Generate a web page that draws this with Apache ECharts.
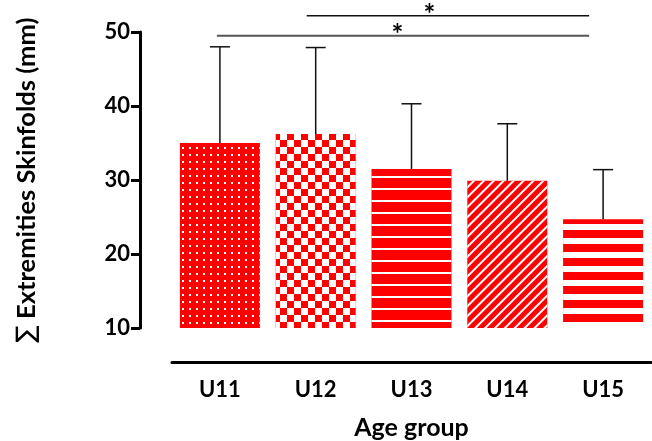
<!DOCTYPE html>
<html>
<head>
<meta charset="utf-8">
<script src="https://cdn.jsdelivr.net/npm/echarts@6/dist/echarts.min.js"></script>
<style>
  html, body { margin: 0; padding: 0; background: #fff; }
  #chart { width: 652px; height: 441px; }
</style>
</head>
<body>
<div id="chart"></div>
<script>
// Age groups and the summed extremity skinfolds (mean and SD, mm)
const ageGroups = ['U11', 'U12', 'U13', 'U14', 'U15'];
const meanSkinfolds = [35.0, 36.2, 31.5, 29.9, 24.7];
const sdSkinfolds = [13.0, 11.7, 8.8, 7.7, 6.7];
const yTicks = [10, 20, 30, 40, 50];

// Pairwise significant differences
const comparisonFrom = ['U12', 'U11'];
const comparisonTo = ['U15', 'U15'];
const comparisonLevel = [52.2, 49.5];
const comparisonMark = ['*', '*'];

const FONT = 'Lato, "Open Sans", sans-serif';
const RED = '#ff0000';

// one fill pattern per bar: dots, checks, thin stripes, diagonals, thick stripes
const decals = [
  { symbol: 'rect', symbolSize: 1, color: '#ffffff', dashArrayX: [2, 5], dashArrayY: [2, 4.5] },
  { symbol: 'rect', symbolSize: 1, color: '#ffffff', dashArrayX: [[6.5, 6.5], [0, 6.5, 6.5, 0]], dashArrayY: [6.5, 0] },
  { symbol: 'rect', symbolSize: 1, color: '#ffffff', dashArrayX: [1, 0], dashArrayY: [0, 7.3, 1.5, 1.2] },
  { symbol: 'rect', symbolSize: 1, color: '#ffffff', dashArrayX: [1, 0], dashArrayY: [1.5, 4.2], rotation: -Math.PI / 4 },
  { symbol: 'rect', symbolSize: 1, color: '#ffffff', dashArrayX: [1, 0], dashArrayY: [5.5, 7.7] }
];

const barData = meanSkinfolds.map((v, i) => ({
  value: v,
  itemStyle: { color: RED, decal: decals[i] }
}));

const errorData = meanSkinfolds.map((v, i) => [i, v, v + sdSkinfolds[i]]);

const comparisonData = comparisonFrom.map((f, i) => [
  ageGroups.indexOf(f), ageGroups.indexOf(comparisonTo[i]), comparisonLevel[i]
]);

// horizontal placement of each bracket (start shift, end shift, star shift) in px
const bracketShift = [[-9, -14, 18], [-3, -14, -14]];

const chart = echarts.init(document.getElementById('chart'), null, { renderer: 'canvas' });

chart.setOption({
  animation: false,
  backgroundColor: '#ffffff',
  grid: { left: 172, right: 1, top: 32, bottom: 113, containLabel: false, outerBoundsMode: 'none' },
  xAxis: {
    type: 'category',
    data: ageGroups,
    offset: 34,
    axisLine: { lineStyle: { color: '#000', width: 3 } },
    axisTick: { alignWithLabel: true, length: 9, lineStyle: { color: '#000', width: 3 } },
    axisLabel: { fontFamily: FONT, fontWeight: 'bold', fontSize: 22, color: '#000', margin: 17 },
    name: 'Age group',
    nameLocation: 'middle',
    nameGap: 53,
    nameTextStyle: { fontFamily: FONT, fontWeight: 'bold', fontSize: 25, color: '#000' }
  },
  yAxis: {
    type: 'value',
    min: yTicks[0],
    max: yTicks[yTicks.length - 1],
    interval: yTicks[1] - yTicks[0],
    offset: 32,
    axisLine: { show: true, lineStyle: { color: '#000', width: 3 } },
    axisTick: { show: true, length: 9, lineStyle: { color: '#000', width: 3 } },
    splitLine: { show: false },
    axisLabel: { fontFamily: FONT, fontWeight: 'bold', fontSize: 22, color: '#000', margin: 10 },
    name: '{sig|\u2211} Extremities Skinfolds (mm)',
    nameLocation: 'middle',
    nameRotate: 90,
    nameGap: 100,
    nameTextStyle: {
      fontFamily: FONT, fontWeight: 'bold', fontSize: 25.5, color: '#000',
      rich: { sig: { fontFamily: '"DejaVu Sans", sans-serif', fontWeight: 'normal', fontSize: 25.5, color: '#000' } }
    }
  },
  series: [
    {
      type: 'bar',
      data: barData,
      barWidth: 80,
      clip: true,
      z: 2
    },
    {
      type: 'custom',
      z: 3,
      data: errorData,
      renderItem: function (params, api) {
        const i = api.value(0);
        const base = api.coord([i, api.value(1)]);
        const top = api.coord([i, api.value(2)]);
        const style = { stroke: '#111', lineWidth: 1.5 };
        return {
          type: 'group',
          children: [
            { type: 'line', shape: { x1: base[0], y1: base[1], x2: top[0], y2: top[1] }, style: style },
            { type: 'line', shape: { x1: top[0] - 10, y1: top[1], x2: top[0] + 10, y2: top[1] }, style: style }
          ]
        };
      }
    },
    {
      type: 'custom',
      z: 3,
      data: comparisonData,
      renderItem: function (params, api) {
        const k = params.dataIndex;
        const a = api.coord([api.value(0), api.value(2)]);
        const b = api.coord([api.value(1), api.value(2)]);
        const sh = bracketShift[k];
        const x1 = a[0] + sh[0];
        const x2 = b[0] + sh[1];
        const starX = api.coord([2, api.value(2)])[0] + sh[2];
        return {
          type: 'group',
          children: [
            { type: 'line', shape: { x1: x1, y1: a[1], x2: x2, y2: a[1] },
              style: { stroke: k === 0 ? '#111' : '#555', lineWidth: k === 0 ? 1.5 : 2 } },
            { type: 'text', x: starX, y: a[1] - 15,
              style: { text: comparisonMark[k], font: 'bold 28px ' + FONT, fill: '#000',
                       textAlign: 'center', textVerticalAlign: 'top' } }
          ]
        };
      }
    }
  ]
});
</script>
</body>
</html>
